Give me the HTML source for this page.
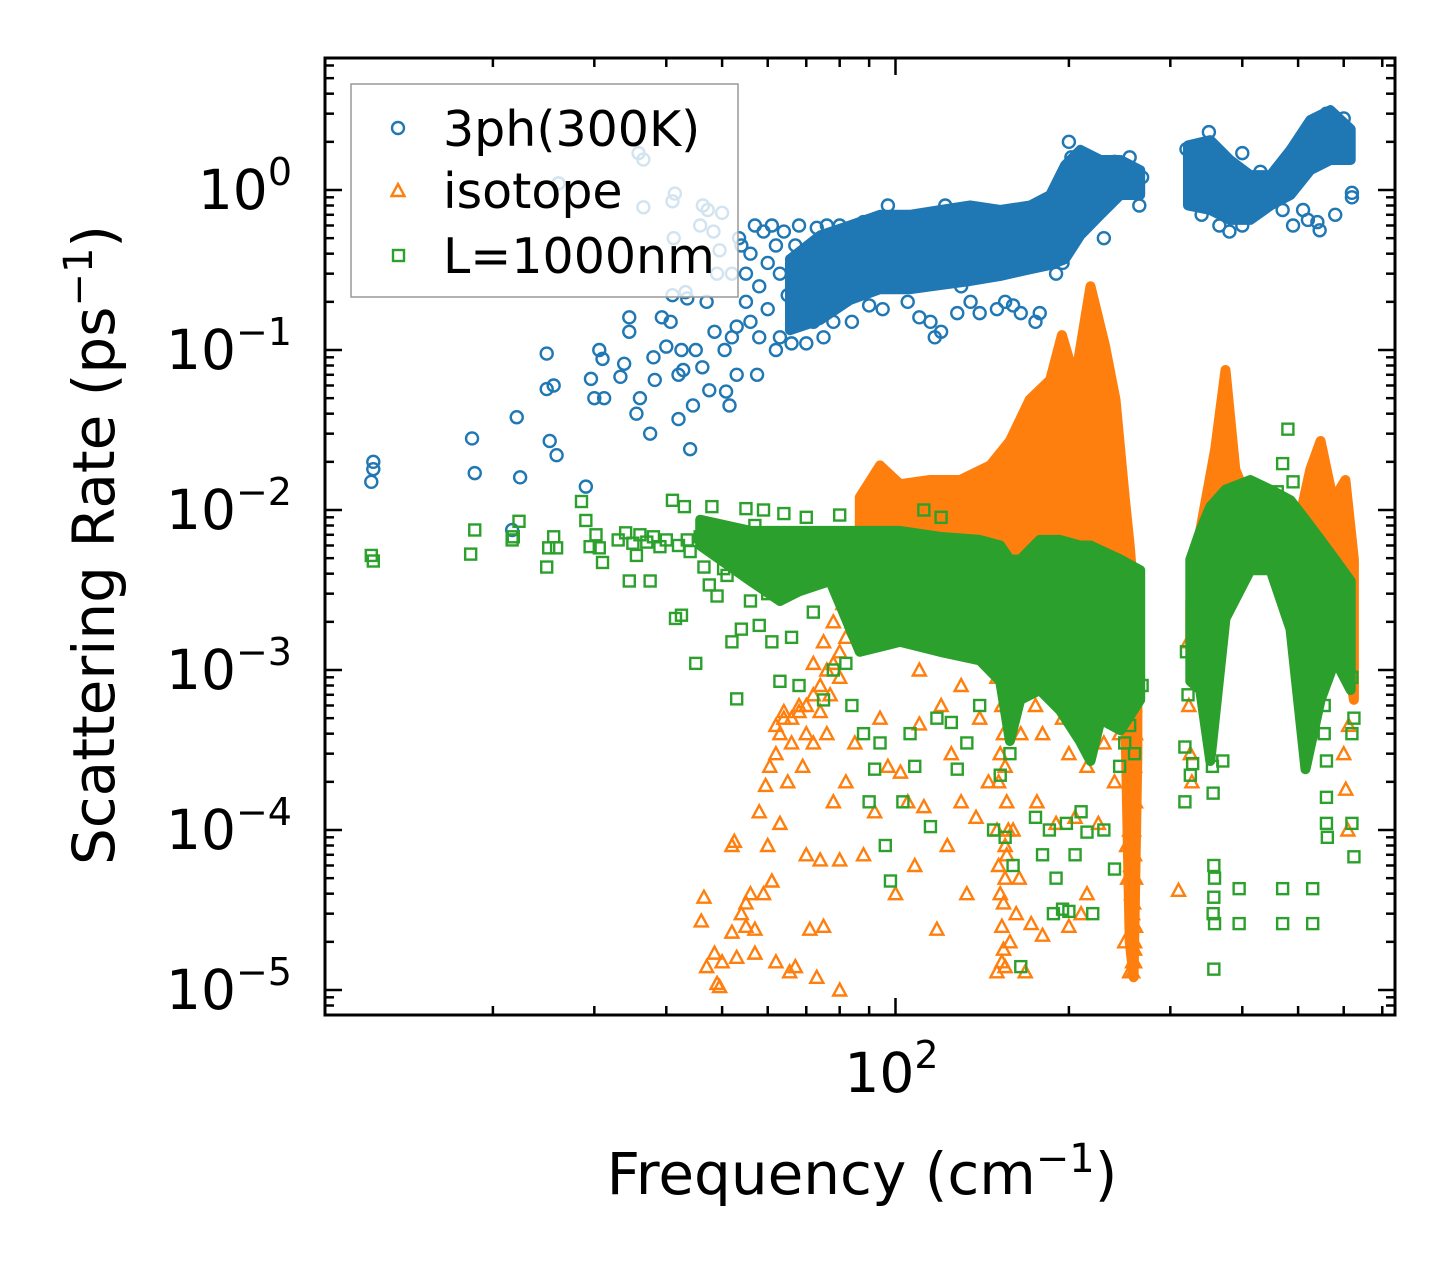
<!DOCTYPE html>
<html><head><meta charset="utf-8"><style>
html,body{margin:0;padding:0;background:#fff;}
svg{display:block;font-family:"DejaVu Sans","Liberation Sans",sans-serif;}
</style></head><body>
<svg id="chart" width="1455" height="1265" viewBox="0 0 1455 1265" xmlns="http://www.w3.org/2000/svg">
<rect x="0" y="0" width="1455" height="1265" fill="#fff"/>
<g id="plot"></g>
<g id="axes"></g>
<g id="legend">
  <rect x="351" y="84" width="387" height="213" fill="#fff" fill-opacity="0.8" stroke="#999" stroke-width="1.5"/>
  <circle cx="398" cy="128" r="6" fill="none" stroke="#1f77b4" stroke-width="2.4"/>
  <text x="443" y="146" font-size="49">3ph(300K)</text>
  <path d="M398,184 L404.5,196 L391.5,196 Z" fill="none" stroke="#ff7f0e" stroke-width="2.4"/>
  <text x="443" y="208" font-size="49">isotope</text>
  <rect x="393" y="250" width="11" height="11" fill="none" stroke="#2ca02c" stroke-width="2.4"/>
  <text x="443" y="273" font-size="49">L=1000nm</text>
</g>
<text x="862" y="1194" font-size="58" text-anchor="middle">Frequency (cm<tspan dy="-22" font-size="40">−1</tspan><tspan dy="22">)</tspan></text>
<text transform="translate(114,545) rotate(-90)" font-size="58" text-anchor="middle">Scattering Rate (ps<tspan dy="-22" font-size="40">−1</tspan><tspan dy="22">)</tspan></text>
</svg>
<script>
// ---- data (frequency in cm^-1, rate in ps^-1) ----
const blueBand1 = [[65.6,.133,.37],[74,.154,.52],[83.3,.205,.6],[94,.24,.7],[106,.24,.7],[119.5,.255,.75],[134.8,.27,.8],[152,.29,.75],[171.3,.32,.8],[185.6,.34,.93],[197,.37,1.43],[209.3,.52,1.78],[226.8,.7,1.54],[245.7,.93,1.54],[266,.93,1.33]];
const blueBand2 = [[322,.8,1.9],[352,.75,2.05],[381,.65,1.54],[413,.65,1.24],[448,.8,1.24],[485,.93,1.78],[525,1.33,2.74],[569,1.54,3.16],[617,1.54,2.4]];
const bluePoints = [[12.3,.015],[12.4,.018],[12.4,.02],[18.4,.028],[18.6,.017],[21.6,.0075],[22,.038],[22.3,.016],[24.8,.095],[24.8,.057],[25.1,.027],[25.5,.06],[25.8,.022],[26,1.1],[29,.014],[29.6,.066],[30,.05],[30.6,.1],[31,.088],[31.2,.05],[33.3,.068],[33.8,.082],[34.5,.16],[34.5,.13],[35.5,.04],[36,.05],[35.8,1.7],[36.5,1.55],[36.5,.78],[37.5,.03],[38,.09],[38.2,.065],[39.3,.16],[40,.105],[40.7,.15],[41.2,.5],[41.4,.95],[41,.85],[41,.22],[42,.07],[42,.037],[42.5,.1],[42.8,.075],[43.5,.21],[43.2,.23],[44,.024],[44.5,.045],[45,.1],[45.8,.6],[46.3,.8],[46.2,.078],[47,.2],[47.2,.75],[47.5,.056],[48.3,.55],[48.5,.13],[49,.3],[49.5,.42],[50,.72],[50.5,.1],[50.8,.055],[51.5,.045],[52,.3],[52,.12],[53,.14],[53,.07],[53.5,.5],[54,.45],[55,.2],[55,.3],[56,.4],[56,.15],[57,.6],[57.5,.07],[58,.12],[58,.25],[59,.55],[60,.18],[60,.35],[61,.6],[62,.1],[62,.45],[63,.3],[63,.12],[64,.55],[65,.22],[66,.11],[67,.45],[68,.6],[70,.11],[72,.15],[73,.58],[75,.12],[76,.6],[78,.15],[80,.6],[84,.15],[88,.63],[90,.19],[95,.18],[97,.8],[105,.2],[110,.16],[115,.15],[117,.12],[120,.13],[122,.8],[128,.17],[130,.25],[135,.2],[140,.17],[150,.18],[155,.2],[160,.19],[165,.17],[170,.6],[175,.15],[178,.17],[185,.5],[190,.3],[195,.35],[200,2.0],[202,1.6],[210,1.5],[230,.5],[240,1.5],[255,1.6],[265,.8],[268,1.2],[320,1.8],[340,.7],[350,2.3],[365,.6],[380,.55],[400,.6],[430,1.3],[470,.75],[490,.6],[510,.75],[520,.65],[540,.63],[545,.56],[560,3.0],[580,.7],[620,.9],[620,.96],[600,2.8],[400,1.7],[550,2.6]];

const orangeBand1 = [[86.7,.0036,.012],[94,.0036,.019],[101.8,.004,.0145],[114.8,.004,.0154],[129.5,.004,.0154],[146,.004,.019],[158,.003,.027],[171,.004,.049],[185.6,.003,.065],[194.5,.002,.124],[205,.003,.065],[218,.002,.25],[231,.002,.107],[241,.0015,.049],[250,.0008,.012],[255,.00002,.006],[259,.000012,.003],[263,.0003,.0015]];
const orangeBand2 = [[325,.0015,.0027],[338,.0021,.0074],[359,.0036,.024],[374,.0049,.075],[389,.0049,.0179],[430,.0045,.0074],[485,.0042,.0049],[525,.0043,.0179],[547,.0036,.027],[575,.0027,.0115],[604,.0015,.0154],[625,.00065,.0049]];
const orangePoints = [[46,2.7e-5],[46.5,3.8e-5],[47,1.4e-5],[48.5,1.7e-5],[49,1.1e-5],[49.5,1.05e-5],[50,1.5e-5],[52,2.3e-5],[52,8e-5],[52.5,8.5e-5],[53,1.6e-5],[54,3e-5],[55,3.5e-5],[55,2.5e-5],[56,4e-5],[57,2.4e-5],[57,1.7e-5],[58,1.3e-4],[59,4e-5],[59.5,1.9e-4],[60,8e-5],[60.5,2.5e-4],[61,4.8e-5],[62,3e-4],[62,1.5e-5],[63,4e-4],[63,1.1e-4],[64,5.5e-4],[65,2e-4],[65.5,1.3e-5],[66,3.5e-4],[67,1.4e-5],[68,6e-4],[69,2.5e-4],[70,7e-5],[71,2.4e-5],[72,3.5e-4],[73,1.2e-5],[74,6.5e-5],[75,2.5e-5],[76,4e-4],[78,1.5e-4],[80,6.5e-5],[80,1e-5],[82,2e-4],[85,3.5e-4],[88,7e-5],[92,1.3e-4],[94,5e-4],[97,2.5e-4],[100,4e-5],[102,2.3e-4],[105,1.5e-4],[108,6e-5],[110,4.6e-4],[112,1.4e-4],[118,2.4e-5],[123,8e-5],[125,3e-4],[130,1.5e-4],[133,4e-5],[138,1.2e-4],[145,2e-4],[150,1.3e-5],[152,3e-4],[155,8e-5],[158,2e-5],[160,1e-4],[162,3e-5],[164,5e-5],[168,1.3e-5],[172,2.6e-5],[176,1.5e-4],[180,2.2e-5],[190,1.1e-4],[200,2.5e-5],[205,1.2e-4],[210,3e-5],[215,4e-5],[225,1.1e-4],[240,2e-4],[250,2e-5],[255,1.3e-5],[258,1.5e-5],[260,2e-5],[253,5e-5],[252,8e-5],[310,4.2e-5],[322,1.5e-3],[323,6e-4],[325,3e-4],[327,2e-4],[600,3e-4],[605,1.8e-4],[610,1e-4],[612,4.5e-4],[150,1e-4],[151,6e-5],[152,4e-5],[153,2.5e-5],[154,1.8e-5],[155,1.4e-5],[151,2e-4],[255,1e-4],[256,6e-5],[257,4e-5],[258,3e-5],[259,2e-5],[260,1.5e-5],[258,1.3e-5],[256,2e-4],[257,3e-4],[66,5e-4],[70,6e-4],[72,7e-4],[74,8e-4],[76,1e-3],[78,1.1e-3],[80,1.3e-3],[82,1.6e-3],[84,2e-3],[86,2.4e-3],[72,1.1e-3],[75,1.5e-3],[78,2e-3],[81,2.6e-3],[84,3.3e-3],[62,4.5e-4],[64,5e-4],[68,5.5e-4],[70,4e-4],[74,5.5e-4],[77,7e-4],[80,9e-4],[175,6e-4],[180,4e-4],[185,8e-4],[195,5e-4],[200,3e-4],[205,7e-4],[210,4.5e-4],[215,2.5e-4],[222,6e-4],[230,3.5e-4],[235,8e-4],[245,4e-4],[160,7e-4],[165,4e-4],[150,9e-4],[140,5e-4],[130,8e-4],[120,6e-4],[110,1e-3],[153,6e-4],[154,4e-4],[155,2.5e-4],[156,1.5e-4],[157,1e-4],[156,7e-5],[155,5e-5],[154,3.5e-5],[153,1.5e-5],[259,1e-3],[260,6e-4],[261,4e-4],[260,2.5e-4],[261,1.5e-4],[259,1e-4],[260,7e-5],[261,5e-5],[259,3.5e-5],[261,2.5e-5],[260,1.8e-5]];

const greenBand1 = [[45.8,.006,.0087],[56,.0036,.0074],[63,.0027,.0074],[68,.0031,.0074],[77,.0036,.0074],[86.7,.0013,.0074],[101.8,.0015,.0074],[119.5,.0013,.0068],[140,.00115,.0065],[152,.00085,.006],[158,.00036,.0049],[164.6,.00065,.0049],[178,.00075,.0065],[193,.00056,.0065],[209,.00036,.006],[218,.00027,.006],[227,.00049,.0056],[246,.00042,.0049],[266,.00065,.0042]];
const greenBand2 = [[325,.00085,.0049],[338,.00075,.0074],[352,.00027,.0105],[374,.0021,.0134],[413,.0042,.0154],[448,.0042,.0134],[485,.0018,.0115],[515,.00024,.0087],[547,.00065,.0065],[580,.00115,.0049],[617,.00075,.0036]];
const greenPoints = [[12.3,5.2e-3],[12.4,4.8e-3],[18.3,5.3e-3],[18.6,7.5e-3],[21.6,6.5e-3],[21.7,6.8e-3],[22.2,8.5e-3],[24.8,4.4e-3],[25,5.8e-3],[25.5,6.8e-3],[25.8,5.8e-3],[28.5,1.13e-2],[29,8.6e-3],[29.5,5.9e-3],[30.2,7e-3],[30.6,5.8e-3],[31,4.7e-3],[33,6.5e-3],[34,7.2e-3],[34.5,3.6e-3],[35,6.2e-3],[35.5,5.2e-3],[36,7e-3],[37,6.3e-3],[37.5,3.6e-3],[38,6.8e-3],[39,5.9e-3],[40,6.5e-3],[41,1.15e-2],[41.5,2.1e-3],[42,6e-3],[42.5,2.2e-3],[43,1.05e-2],[43.5,6.5e-3],[44,5.5e-3],[45,1.1e-3],[45.8,6.8e-3],[46.5,4.4e-3],[47.5,3.4e-3],[48,1.05e-2],[48.5,6e-3],[49,2.9e-3],[50,7.3e-3],[50.3,4.3e-3],[51,3.9e-3],[52,1.5e-3],[53,6.6e-4],[54,1.8e-3],[55,1.02e-2],[56,2.7e-3],[57,8e-3],[58,1.9e-3],[59,1e-2],[60,3e-3],[61,1.5e-3],[63,8.5e-4],[64,9.5e-3],[66,1.6e-3],[68,8e-4],[70,9e-3],[72,2.3e-3],[75,6.5e-4],[78,1e-3],[80,9.3e-3],[82,1.1e-3],[84,6e-4],[88,4e-4],[90,1.5e-4],[92,2.4e-4],[94,3.5e-4],[96,8e-5],[98,4.8e-5],[103,1.5e-4],[106,4e-4],[108,2.5e-4],[112,1e-2],[115,1.05e-4],[118,5e-4],[120,9e-3],[125,4.7e-4],[128,2.4e-4],[133,3.5e-4],[140,6e-4],[148,1e-4],[152,2.2e-4],[155,9e-5],[158,3e-4],[160,6e-5],[165,1.4e-5],[175,1.2e-4],[180,7e-5],[185,1e-4],[188,3e-5],[190,5e-5],[195,3.2e-5],[198,1.1e-4],[200,3.1e-5],[205,7e-5],[210,1.3e-4],[215,9.7e-5],[220,3e-5],[230,1e-4],[240,5.7e-5],[245,2.5e-4],[250,3.5e-4],[255,4.5e-4],[260,3e-4],[268,8e-4],[318,3.3e-4],[318,1.5e-4],[320,1.3e-3],[322,7e-4],[325,2.2e-4],[328,2.6e-4],[350,8e-4],[352,4.5e-4],[355,2.5e-4],[356,1.7e-4],[357,6e-5],[358,5e-5],[357,3.8e-5],[356,3e-5],[358,2.6e-5],[357,1.35e-5],[370,2.7e-4],[395,4.3e-5],[395,2.6e-5],[440,1.1e-2],[460,1.3e-2],[470,1.95e-2],[480,3.2e-2],[490,1.5e-2],[470,4.3e-5],[470,2.6e-5],[530,4.3e-5],[530,2.6e-5],[540,3e-3],[545,2e-3],[550,1e-3],[555,6e-4],[555,4e-4],[560,2.7e-4],[560,1.6e-4],[560,1.1e-4],[562,9e-5],[620,1.1e-4],[620,4e-4],[625,6.8e-5],[620,9e-4],[625,5e-4]];

const yMajorExps = [0,-1,-2,-3,-4,-5];
const xMinorTicks = [20,30,40,50,60,70,80,90,200,300,400,500,600,700];
const xMajorTicks = [100];

// ---- scales ----
const PL=325, PR=1395, PT=58, PB=1015;
function xs(f){return 895.5+576*(Math.log10(f)-2);}
function ys(v){return 190-160*Math.log10(v);}
const NS="http://www.w3.org/2000/svg";
const plot=document.getElementById('plot');
const axes=document.getElementById('axes');
function mk(tag,attrs,parent){const e=document.createElementNS(NS,tag);for(const k in attrs)e.setAttribute(k,attrs[k]);parent.appendChild(e);return e;}

const clip=mk('clipPath',{id:'clip'},plot);
mk('rect',{x:PL,y:PT,width:PR-PL,height:PB-PT},clip);
const g=mk('g',{'clip-path':'url(#clip)'},plot);

function band(seg,color,name){
  let d='';
  seg.forEach((p,i)=>{d+=(i?'L':'M')+xs(p[0]).toFixed(1)+','+ys(p[2]).toFixed(1);});
  for(let i=seg.length-1;i>=0;i--){d+='L'+xs(seg[i][0]).toFixed(1)+','+ys(seg[i][1]).toFixed(1);}
  d+='Z';
  const e=mk('path',{d:d,fill:color,stroke:color,'stroke-width':10,'stroke-linejoin':'round'},g);
  
  
}
function pts(arr,color,shape,name){
  arr.forEach(p=>{
    const x=xs(p[0]),y=ys(p[1]);let e;
    if(shape==='o') e=mk('circle',{cx:x,cy:y,r:6,fill:'none',stroke:color,'stroke-width':2.4},g);
    else if(shape==='^') e=mk('path',{d:`M${x},${y-6.5}L${x+6.5},${y+5.5}L${x-6.5},${y+5.5}Z`,fill:'none',stroke:color,'stroke-width':2.4},g);
    else e=mk('rect',{x:x-5.5,y:y-5.5,width:11,height:11,fill:'none',stroke:color,'stroke-width':2.4},g);
    
    
  });
}
const C1='#1f77b4',C2='#ff7f0e',C3='#2ca02c';
band(blueBand1,C1,'3ph-dense-band');band(blueBand2,C1,'3ph-dense-band');pts(bluePoints,C1,'o','3ph-point');
band(orangeBand1,C2,'isotope-dense-band');band(orangeBand2,C2,'isotope-dense-band');pts(orangePoints,C2,'^','isotope-point');
band(greenBand1,C3,'boundary-dense-band');band(greenBand2,C3,'boundary-dense-band');pts(greenPoints,C3,'s','boundary-point');

// ---- axes ----
const frame=mk('rect',{x:PL,y:PT,width:PR-PL,height:PB-PT,fill:'none',stroke:'#000','stroke-width':3},axes);


function tick(x1,y1,x2,y2,name){const e=mk('line',{x1,y1,x2,y2,stroke:'#000','stroke-width':2.5},axes);}
yMajorExps.forEach(ex=>{
  const y=ys(Math.pow(10,ex));
  tick(PL,y,PL+17,y,'y-major-tick');tick(PR,y,PR-17,y,'y-major-tick');
  const t=mk('text',{x:292,y:y+19,'font-size':55,'text-anchor':'end'},axes);
  
  
  t.innerHTML='10<tspan dy="-24" font-size="38">'+(ex===0?'0':'−'+(-ex))+'</tspan>';
});
for(let ex=-6;ex<=0;ex++){for(let k=2;k<=9;k++){const y=ys(k*Math.pow(10,ex));if(y>PT&&y<PB){tick(PL,y,PL+9,y,'y-minor-tick');tick(PR,y,PR-9,y,'y-minor-tick');}}}
xMinorTicks.forEach(f=>{const x=xs(f);tick(x,PB,x,PB-9,'x-minor-tick');tick(x,PT,x,PT+9,'x-minor-tick');});
xMajorTicks.forEach(f=>{const x=xs(f);tick(x,PB,x,PB-17,'x-major-tick');tick(x,PT,x,PT+17,'x-major-tick');
  const t=mk('text',{x:x-4,y:1092,'font-size':55,'text-anchor':'middle'},axes);
  
  
  t.innerHTML='10<tspan dy="-24" font-size="38">2</tspan>';
});
</script>
</body></html>
